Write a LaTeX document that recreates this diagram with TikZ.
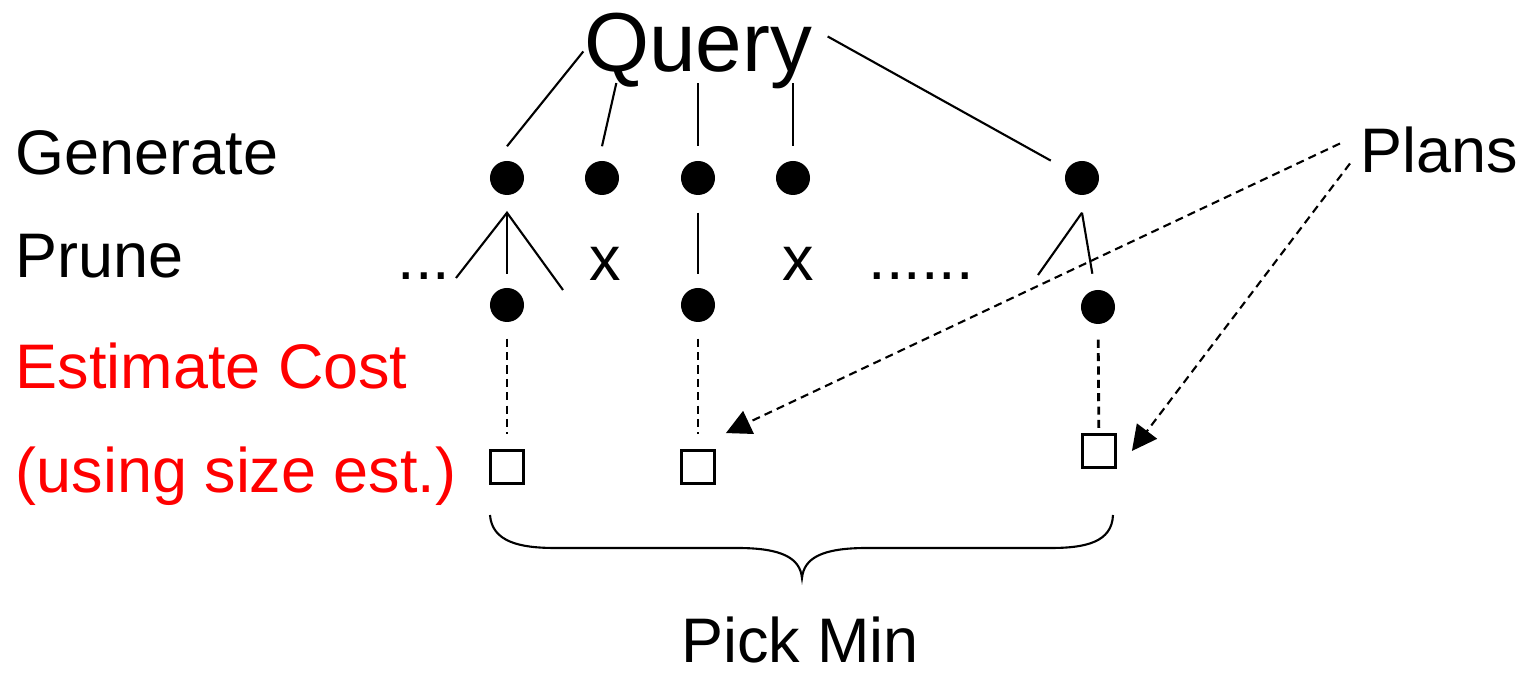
\documentclass[tikz,border=0pt]{standalone}
\usepackage{fontspec}
\setmainfont{Liberation Sans}
\usetikzlibrary{positioning,calc,arrows.meta}
\definecolor{costred}{RGB}{255,0,0}
\newcommand{\lblsize}{\fontsize{17.9pt}{21pt}\selectfont}
\newcommand{\qrysize}{\fontsize{23.8pt}{28pt}\selectfont}
\tikzset{
  lbl/.style={font=\lblsize, inner sep=0pt, anchor=base west},
  plan/.style={circle, fill=black, inner sep=0pt, minimum size=0.34cm},
  costbox/.style={draw, line width=0.8pt, fill=white, inner sep=0pt, minimum size=0.33cm},
  link/.style={line width=0.6pt},
  guide/.style={line width=0.8pt, dash pattern=on 2.3pt off 1.5pt},
  plansarrow/.style={line width=0.6pt, dash pattern=on 2.3pt off 1.5pt,
    -{Triangle[length=0.25cm,width=0.25cm]}}
}

\begin{document}
\begin{tikzpicture}[x=0.01cm, y=-0.01cm]
  \useasboundingbox (0,0) rectangle (1523,674);

  % row labels
  \node[lbl] (gen) at (15,175) {Generate};
  \node[lbl] (prune) at (15,278) {Prune};
  \node[lbl, text=costred] (est) at (15,389) {Estimate Cost};
  \node[lbl, text=costred] (using) at (15,493) {(using size est.)};
  \node[lbl] (plans) at (1360,173) {Plans};
  \node[lbl, anchor=base] (pick) at (800,663) {Pick Min};
  \node[font=\qrysize, inner sep=0pt, anchor=base] (query) at (698,72) {Query};

  % generated plans
  \foreach \i/\x in {1/507,2/602,3/698,4/793,5/1082}
    \node[plan] (g\i) at (\x,178) {};
  % plans left after pruning
  \node[plan] (p1) at (507,305) {};
  \node[plan] (p3) at (698,305) {};
  \node[plan] (p5) at (1098,307) {};
  % cost of each plan
  \node[costbox] (c1) at (507,467) {};
  \node[costbox] (c3) at (698,467) {};
  \node[costbox] (c5) at (1099,451) {};

  \node[lbl] (dotsl) at (397,280) {...};
  \node[lbl, anchor=base] (x2) at (605,281) {x};
  \node[lbl, anchor=base] (x4) at (798,281) {x};
  \node[lbl] (dotsr) at (868,280) {......};

  % Query -> generated plans
  \foreach \i in {1,...,4}
    \coordinate[above=0.14cm of g\i] (t\i);
  \coordinate (qb) at ($(query.south)+(0,-7)$);
  \draw[link] (query.west) -- (t1);
  \draw[link] ($(query.south west)+(33,-7)$) -- (t2);
  \draw[link] (qb -| t3) -- (t3);
  \draw[link] (qb -| t4) -- (t4);
  \draw[link, shorten >=0.18cm] ($(query.east)+(15,-15)$) -- (g5);

  % pruning
  \coordinate[below=0.17cm of g1] (b1);
  \coordinate[below=0.17cm of g3] (b3);
  \coordinate[below=0.17cm of g5] (b5);
  \coordinate (l1) at (456,278);
  \coordinate (r1) at (563,290);
  \coordinate (l5) at (1038,275);
  \draw[link] (l1) -- (b1) -- (r1);
  \draw[link, shorten >=0.13cm] (b1) -- (p1);
  \draw[link, shorten >=0.13cm] (b3) -- (p3);
  \draw[link] (l5) -- (b5);
  \draw[link, shorten >=0.16cm] (b5) -- (p5);

  % cost estimation
  \draw[guide, shorten <=0.16cm, shorten >=0.15cm] (p1) -- (c1);
  \draw[guide, shorten <=0.16cm, shorten >=0.15cm] (p3) -- (c3);
  \draw[guide, shorten <=0.15cm] (p5) -- (c5);

  % Plans label points at the costed plans
  \coordinate (a3) at ($(c3.north east)+(10,-16)$);
  \coordinate[right=0.15cm of c5] (a5);
  \draw[plansarrow] ($(plans.west)+(-20,-7)$) -- (a3);
  \draw[plansarrow] ($(plans.west)+(-10,13)$) -- (a5);

  % brace over the costs
  \draw[line width=0.6pt] (490,515) .. controls (492,542) and (520,548) .. (555,548)
    -- (737,548) .. controls (782,548) and (800,558) .. (802,578)
    .. controls (804,558) and (822,548) .. (867,548)
    -- (1051,548) .. controls (1086,548) and (1112,542) .. (1113,515);
\end{tikzpicture}
\end{document}
